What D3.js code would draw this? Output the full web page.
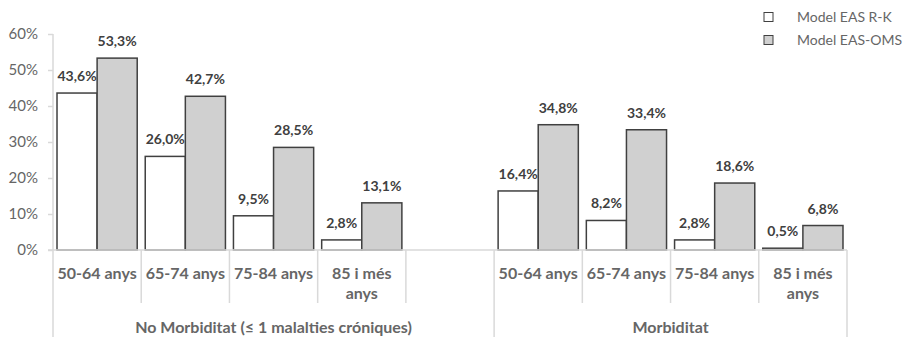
<!DOCTYPE html>
<html>
<head>
<meta charset="utf-8">
<script src="https://cdn.jsdelivr.net/npm/d3@7"></script>
<style>
  html, body { margin: 0; padding: 0; background: #fff; }
  svg { display: block; font-family: Lato, "Liberation Sans", sans-serif; }
</style>
</head>
<body>
<svg id="chart" width="909" height="337"></svg>
<script>
// Age bands shown in each morbidity group
const ageBands = ["50-64 anys", "65-74 anys", "75-84 anys", "85 i més anys"];
// Morbidity groups (the first one carries a trailing empty slot)
const groupNames = ["No Morbiditat (≤ 1 malalties cróniques)", "Morbiditat"];
const groupSlots = [5, 4];
// Series
const seriesNames = ["Model EAS R-K", "Model EAS-OMS"];
const seriesColors = ["#ffffff", "#d0d0d0"];
// Percentages, one array per series and group
const rkNoMorb  = [43.6, 26.0, 9.5, 2.8];
const omsNoMorb = [53.3, 42.7, 28.5, 13.1];
const rkMorb    = [16.4, 8.2, 2.8, 0.5];
const omsMorb   = [34.8, 33.4, 18.6, 6.8];
// Y axis ticks
const yTicks = [0, 10, 20, 30, 40, 50, 60];

const svg = d3.select("#chart");
const axisColor = "#d9d9d9";
const textColor = "#666666";
const labelColor = "#404040";

const plot = { left: 53, right: 847, top: 34, bottom: 250 };

// Build slot list: each slot is a category on the x axis
const slots = [];
const groupValues = [[rkNoMorb, omsNoMorb], [rkMorb, omsMorb]];
groupNames.forEach((g, gi) => {
  for (let i = 0; i < groupSlots[gi]; i++) {
    const hasData = i < ageBands.length;
    slots.push({
      key: gi + "-" + i,
      group: gi,
      label: hasData ? ageBands[i] : "",
      values: hasData ? groupValues[gi].map(s => s[i]) : null
    });
  }
});

const x0 = d3.scaleBand()
  .domain(slots.map(d => d.key))
  .range([plot.left, plot.right])
  .paddingInner(0).paddingOuter(0);

const x1 = d3.scaleBand()
  .domain(seriesNames)
  .range([0, x0.bandwidth()])
  .paddingInner(0).paddingOuter(0.1);

const y = d3.scaleLinear().domain([0, 60]).range([plot.bottom, plot.top]);

// Y axis
const yAxis = d3.axisLeft(y)
  .tickValues(yTicks)
  .tickFormat(d => d + "%")
  .tickSize(5)
  .tickPadding(10);

const yg = svg.append("g")
  .attr("transform", `translate(${plot.left},0)`)
  .call(yAxis);
yg.select(".domain").remove();
yg.selectAll(".tick line").attr("stroke", axisColor).attr("stroke-width", 1.5);
yg.selectAll(".tick text")
  .attr("fill", textColor)
  .style("font-size", "15px")
  .style("font-family", "Lato, sans-serif");

// Vertical axis line extends down through the category area
svg.append("line")
  .attr("x1", plot.left).attr("x2", plot.left)
  .attr("y1", plot.top).attr("y2", 337)
  .attr("stroke", axisColor).attr("stroke-width", 1.5);

// Bars
const slotG = svg.append("g").selectAll("g")
  .data(slots.filter(d => d.values))
  .join("g")
  .attr("transform", d => `translate(${x0(d.key)},0)`);

slotG.selectAll("rect")
  .data(d => d.values.map((v, i) => ({ series: seriesNames[i], value: v, i })))
  .join("rect")
  .attr("x", d => x1(d.series))
  .attr("y", d => y(d.value))
  .attr("width", x1.bandwidth())
  .attr("height", d => y(0) - y(d.value))
  .attr("fill", d => seriesColors[d.i])
  .attr("stroke", labelColor)
  .attr("stroke-width", 1.5);

// Value labels
slotG.selectAll("text")
  .data(d => d.values.map((v, i) => ({ series: seriesNames[i], value: v })))
  .join("text")
  .attr("x", d => x1(d.series) + x1.bandwidth() / 2)
  .attr("y", d => y(d.value) - 12)
  .attr("text-anchor", "middle")
  .attr("fill", labelColor)
  .style("font-size", "14px")
  .style("font-weight", "bold")
  .text(d => d3.format(".1f")(d.value).replace(".", ",") + "%");

// Horizontal category axis line
svg.append("line")
  .attr("x1", plot.left - 5).attr("x2", plot.right)
  .attr("y1", plot.bottom).attr("y2", plot.bottom)
  .attr("stroke", axisColor).attr("stroke-width", 1.5);

// Slot dividers
const groupEdges = [];
let acc = 0;
groupSlots.forEach(n => { groupEdges.push(acc); acc += n; });
groupEdges.push(acc);

d3.range(1, slots.length + 1).forEach(i => {
  const xp = plot.left + i * x0.step();
  const isGroupEdge = groupEdges.includes(i);
  svg.append("line")
    .attr("x1", xp).attr("x2", xp)
    .attr("y1", plot.bottom).attr("y2", isGroupEdge ? 337 : 303)
    .attr("stroke", axisColor).attr("stroke-width", 1.5);
});

// Category labels with wrapping
function wrapLines(text, maxW, size) {
  const probe = svg.append("text")
    .style("font-size", size + "px").style("font-weight", "bold");
  const words = text.split(" ");
  const lines = [];
  let cur = "";
  words.forEach(w => {
    const test = cur ? cur + " " + w : w;
    probe.text(test);
    if (probe.node().getComputedTextLength() > maxW && cur) {
      lines.push(cur);
      cur = w;
    } else cur = test;
  });
  if (cur) lines.push(cur);
  probe.remove();
  return lines;
}

slots.filter(d => d.label).forEach(d => {
  const cx = x0(d.key) + x0.bandwidth() / 2;
  const lines = wrapLines(d.label, x0.bandwidth() - 4, 16);
  const t = svg.append("text")
    .attr("text-anchor", "middle")
    .attr("fill", textColor)
    .style("font-size", "16px")
    .style("font-weight", "bold");
  lines.forEach((ln, k) => {
    t.append("tspan").attr("x", cx).attr("y", 279 + k * 20).text(ln);
  });
});

// Group labels
groupNames.forEach((g, gi) => {
  const xa = plot.left + groupEdges[gi] * x0.step();
  const xb = plot.left + groupEdges[gi + 1] * x0.step();
  svg.append("text")
    .attr("x", (xa + xb) / 2)
    .attr("y", 333)
    .attr("text-anchor", "middle")
    .attr("fill", textColor)
    .style("font-size", "16px")
    .style("font-weight", "bold")
    .text(g);
});

// Legend
const legend = svg.append("g").attr("transform", "translate(764,0)");
seriesNames.forEach((s, i) => {
  const cy = 17 + i * 23;
  legend.append("rect")
    .attr("x", 0).attr("y", cy - 4.5)
    .attr("width", 9).attr("height", 9)
    .attr("fill", seriesColors[i])
    .attr("stroke", labelColor).attr("stroke-width", 1);
  legend.append("text")
    .attr("x", 33).attr("y", cy + 5)
    .attr("fill", textColor)
    .style("font-size", "14px")
    .text(s);
});
</script>
</body>
</html>
